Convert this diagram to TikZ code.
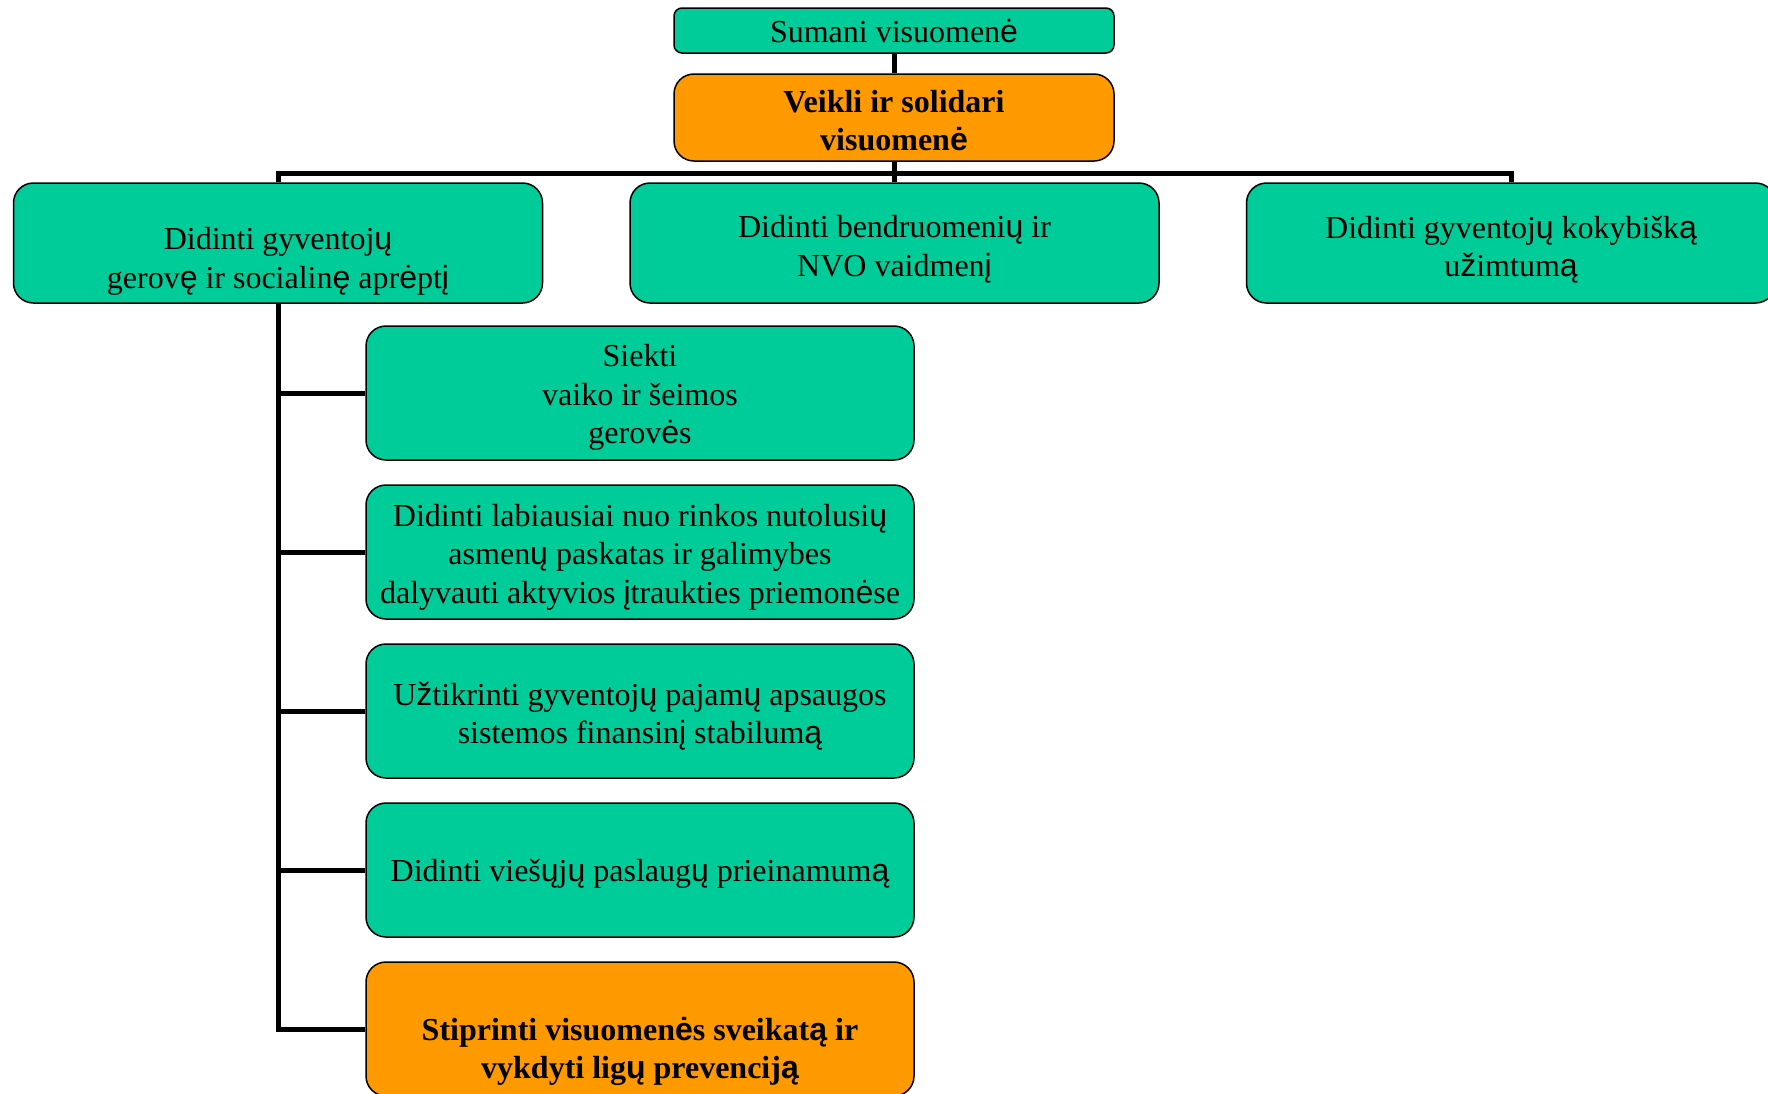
\documentclass[tikz,border=0pt]{standalone}
\usepackage{fontspec}
\setmainfont{Liberation Serif}
\newfontfamily\ltsans{Liberation Sans}
\newcommand\ls[1]{{\ltsans #1}}
\definecolor{tgreen}{RGB}{0,204,153}
\definecolor{torange}{RGB}{255,153,0}
\begin{document}
\begin{tikzpicture}[x=1pt,y=-1pt,
 box/.style={draw=black, line width=1.5pt, rounded corners=20pt, fill=tgreen, inner sep=0pt},
 obox/.style={box, fill=torange},
 topbox/.style={box, minimum width=529pt, minimum height=120pt},
 subbox/.style={box, minimum width=548pt, minimum height=134pt},
 txt/.style={align=center, font=\fontsize{32}{38.6}\selectfont, inner sep=0pt},
 btxt/.style={align=center, font=\fontsize{32}{38.6}\selectfont\bfseries, inner sep=0pt},
 conn/.style={line width=5pt, line join=miter}]
\clip (0,0) rectangle (1768,1093);
\fill[white] (0,0) rectangle (1768,1093);
\coordinate (bar) at (0,173);
% boxes
\node[box, rounded corners=8pt, minimum width=440pt, minimum height=45pt] (sumani) at (894,30.5) {};
\node[obox, minimum width=440pt, minimum height=87pt] (veikli) at (894,117.5) {};
\node[topbox] (L) at (278,243) {};
\node[topbox] (M) at (894.5,243) {};
\node[topbox] (R) at (1511,243) {};
\node[subbox] (c1) at (640,393) {};
\node[subbox] (c2) at (640,552) {};
\node[subbox] (c3) at (640,711) {};
\node[subbox] (c4) at (640,870) {};
\node[subbox, fill=torange] (c5) at (640,1029) {};
% connectors
\draw[conn] (sumani.south) -- (veikli.north);
\draw[conn] (veikli.south) -- (veikli.south |- bar);
\draw[conn] (L.north) -- (L.north |- bar) -- (R.north |- bar) -- (R.north);
\draw[conn] (M.north) -- (M.north |- bar);
\draw[conn] (L.south) -- (L.south |- c5.west) -- (c5.west);
\foreach \c in {c1,c2,c3,c4}{\draw[conn] (L.south |- \c.west) -- (\c.west);}
% texts
\node[txt] (tsumani) at (894,31) {Sumani visuomen\ls{ė}};
\node[btxt] (tveikli) at (894,120.5) {Veikli ir solidari\\visuomen\ls{ė}};
\node[txt] (tL) at (278,261.5) {Didinti gyventoj\ls{ų}\\gerov\ls{ę} ir socialin\ls{ę} apr\ls{ė}pt\ls{į}};
\node[txt] (tM) at (894.5,249.5) {Didinti bendruomeni\ls{ų} ir\\NVO vaidmen\ls{į}};
\node[txt] (tR) at (1511,249.5) {Didinti gyventoj\ls{ų} kokybišk\ls{ą}\\u\ls{ž}imtum\ls{ą}};
\node[txt] (t1) at (640,397.5) {Siekti\\vaiko ir šeimos\\gerov\ls{ė}s};
\node[txt] (t2) at (640,557) {Didinti labiausiai nuo rinkos nutolusi\ls{ų}\\asmen\ls{ų} paskatas ir galimybes\\dalyvauti aktyvios \ls{į}traukties priemon\ls{ė}se};
\node[txt] (t3) at (640,716) {U\ls{ž}tikrinti gyventoj\ls{ų} pajam\ls{ų} apsaugos\\sistemos finansin\ls{į} stabilum\ls{ą}};
\node[txt] (t4) at (640,873.5) {Didinti vieš\ls{ų}j\ls{ų} paslaug\ls{ų} prieinamum\ls{ą}};
\node[btxt] (t5) at (640,1051.5) {Stiprinti visuomen\ls{ė}s sveikat\ls{ą} ir\\vykdyti lig\ls{ų} prevencij\ls{ą}};
\end{tikzpicture}
\end{document}
